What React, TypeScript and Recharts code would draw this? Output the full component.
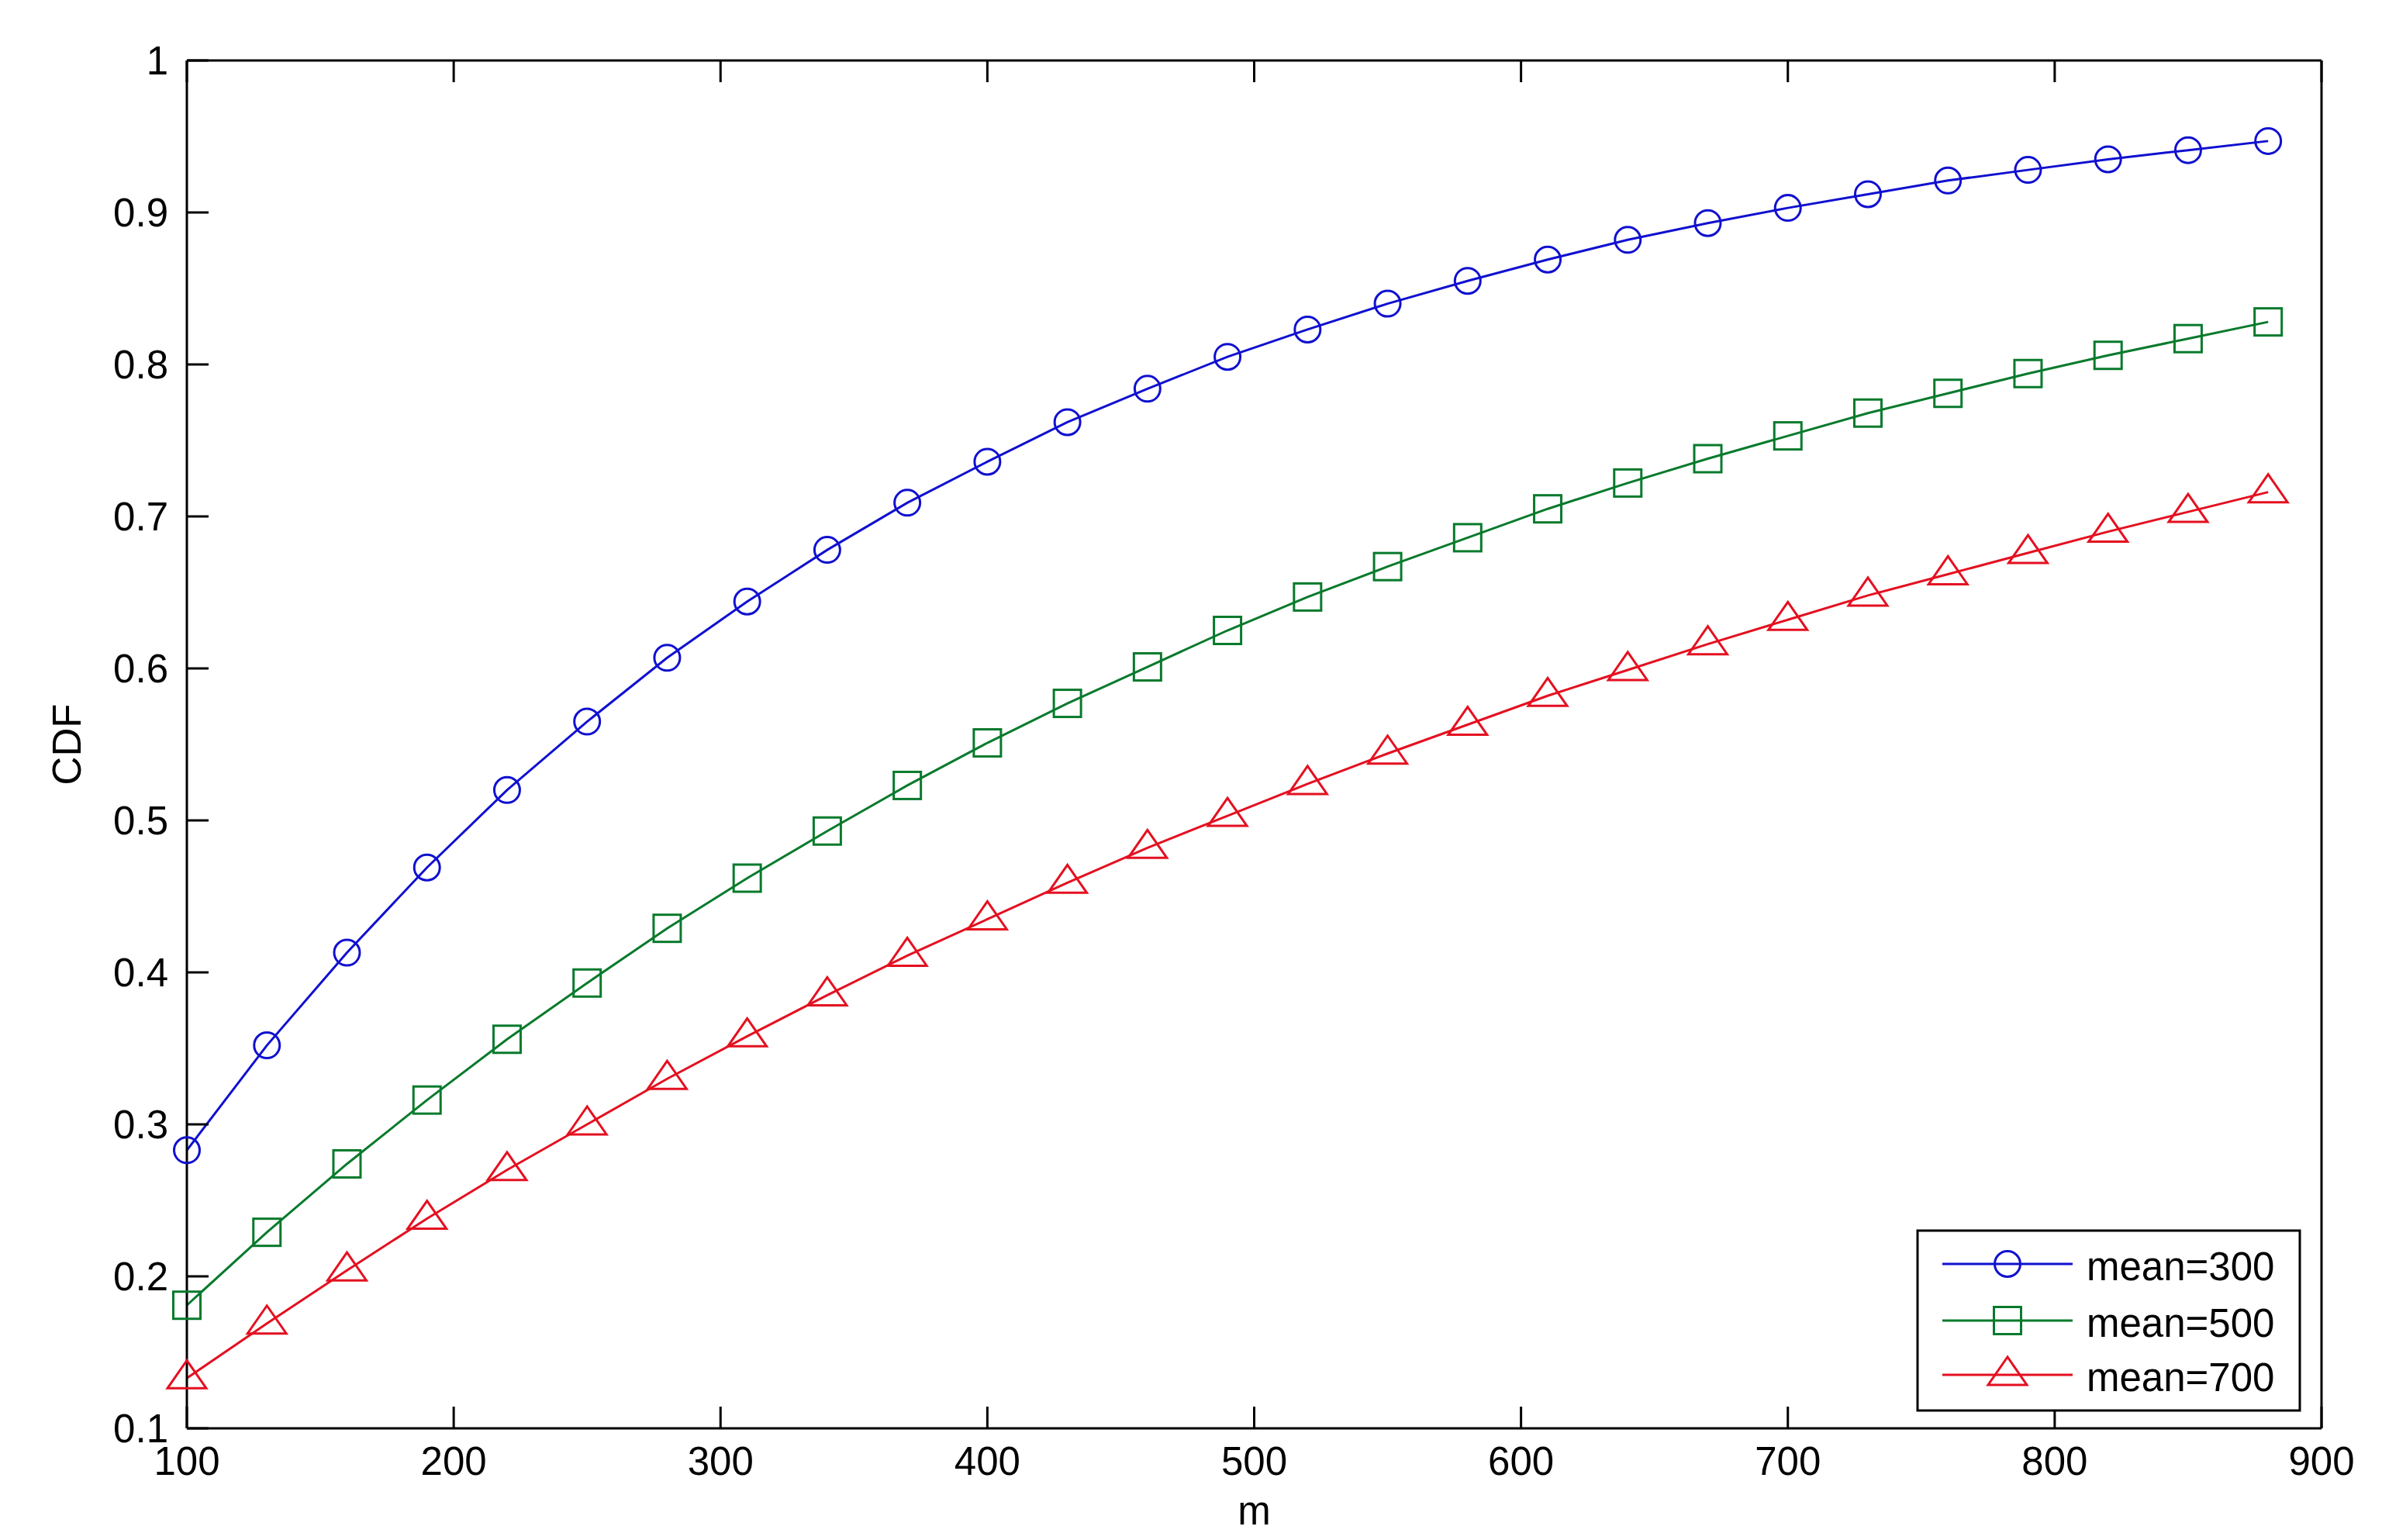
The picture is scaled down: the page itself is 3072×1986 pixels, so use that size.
import {
  LineChart,
  Line,
  XAxis,
  YAxis,
} from "recharts";

const M_VALUES = [
  100, 130, 160, 190, 220, 250, 280, 310, 340, 370, 400, 430, 460, 490, 520,
  550, 580, 610, 640, 670, 700, 730, 760, 790, 820, 850, 880,
];

const MEAN_300 = [
  0.283, 0.352, 0.413, 0.469, 0.520, 0.565, 0.607, 0.644, 0.678, 0.709, 0.736,
  0.762, 0.784, 0.805, 0.823, 0.840, 0.855, 0.869, 0.882, 0.893, 0.903, 0.912,
  0.921, 0.928, 0.935, 0.941, 0.947,
];

const MEAN_500 = [
  0.181, 0.229, 0.274, 0.316, 0.356, 0.393, 0.429, 0.462, 0.493, 0.523, 0.551,
  0.577, 0.601, 0.625, 0.647, 0.667, 0.686, 0.705, 0.722, 0.738, 0.753, 0.768,
  0.781, 0.794, 0.806, 0.817, 0.828,
];

const MEAN_700 = [
  0.133, 0.169, 0.204, 0.238, 0.270, 0.300, 0.330, 0.358, 0.385, 0.411, 0.435,
  0.459, 0.482, 0.503, 0.524, 0.544, 0.563, 0.582, 0.599, 0.616, 0.632, 0.648,
  0.662, 0.676, 0.690, 0.703, 0.716,
];

const X_TICKS = [100, 200, 300, 400, 500, 600, 700, 800, 900];
const Y_TICKS = [0.1, 0.2, 0.3, 0.4, 0.5, 0.6, 0.7, 0.8, 0.9, 1];

const SERIES = [
  { key: "m300", name: "mean=300", color: "#1010d0", shape: "circle" },
  { key: "m500", name: "mean=500", color: "#087a2c", shape: "square" },
  { key: "m700", name: "mean=700", color: "#e41020", shape: "triangle" },
];

const data = M_VALUES.map((m, i) => ({
  m,
  m300: MEAN_300[i],
  m500: MEAN_500[i],
  m700: MEAN_700[i],
}));

const FONT = "'Liberation Sans', Arial, sans-serif";
const FONT_SIZE = 51;
const TICK_LEN = 28;

function Label({ x, y, anchor = "start", rotate = 0, children }: any) {
  return (
    <text
      transform={`translate(${x},${y}) rotate(${rotate})`}
      textAnchor={anchor}
      fontFamily={FONT}
      fontSize={FONT_SIZE}
      fill="#000"
    >
      {children}
    </text>
  );
}

function Marker({ cx, cy, shape, color }: any) {
  if (cx == null || cy == null) return null;
  if (shape === "circle") {
    return <circle cx={cx} cy={cy} r={16.5} fill="none" stroke={color} strokeWidth={3} />;
  }
  if (shape === "square") {
    return (
      <rect x={cx - 17.5} y={cy - 17.5} width={35} height={35} fill="none" stroke={color} strokeWidth={3} />
    );
  }
  return (
    <polygon
      points={`${cx},${cy - 23} ${cx - 25},${cy + 13} ${cx + 25},${cy + 13}`}
      fill="none"
      stroke={color}
      strokeWidth={3}
    />
  );
}

function BottomTick({ x, y, payload }: any) {
  return (
    <g>
      <line x1={x} y1={y} x2={x} y2={y - TICK_LEN} stroke="#000" strokeWidth={3} />
      <Label x={x} y={y + 60} anchor="middle">
        {payload.value}
      </Label>
    </g>
  );
}

function TopTick({ x, y }: any) {
  return <line x1={x} y1={y} x2={x} y2={y + TICK_LEN} stroke="#000" strokeWidth={3} />;
}

function LeftTick({ x, y, payload }: any) {
  const v = payload.value;
  const label = v === 1 ? "1" : v.toFixed(1);
  return (
    <g>
      <line x1={x} y1={y} x2={x + TICK_LEN} y2={y} stroke="#000" strokeWidth={3} />
      <Label x={x - 24} y={y + 18} anchor="end">
        {label}
      </Label>
    </g>
  );
}

function RightTick({ x, y }: any) {
  return <line x1={x} y1={y} x2={x - TICK_LEN} y2={y} stroke="#000" strokeWidth={3} />;
}

function XLabel({ viewBox }: any) {
  return (
    <Label x={viewBox.x + viewBox.width / 2} y={viewBox.y + 124} anchor="middle">
      m
    </Label>
  );
}

function YLabel({ viewBox }: any) {
  return (
    <Label x={104} y={viewBox.y + viewBox.height / 2} anchor="middle" rotate={-90}>
      CDF
    </Label>
  );
}

function LegendBox() {
  const rows = [45, 118, 188];
  return (
    <svg width={500} height={238} style={{ display: "block" }}>
      <rect x={2} y={2} width={493} height={232} fill="#fff" stroke="#000" strokeWidth={3} />
      {SERIES.map((s, i) => (
        <g key={s.key}>
          <line x1={34} y1={rows[i]} x2={202} y2={rows[i]} stroke={s.color} strokeWidth={3} />
          <Marker cx={118} cy={rows[i]} shape={s.shape} color={s.color} />
          <Label x={220} y={rows[i] + 21}>
            {s.name}
          </Label>
        </g>
      ))}
    </svg>
  );
}

export default function App() {
  return (
    <div style={{ position: "fixed", left: 0, top: 0, width: 3072, height: 1986, background: "#fff" }}>
      <LineChart
        width={3072}
        height={1986}
        data={data}
        margin={{ top: 77, right: 77, bottom: 143, left: 240 }}
      >
        <XAxis
          xAxisId="bottom"
          dataKey="m"
          type="number"
          domain={[100, 900]}
          ticks={X_TICKS}
          interval={0}
          height={1}
          tickSize={0}
          tickMargin={0}
          tickLine={false}
          axisLine={{ stroke: "#000", strokeWidth: 3 }}
          tick={<BottomTick />}
          label={<XLabel />}
        />
        <XAxis
          xAxisId="top"
          orientation="top"
          dataKey="m"
          type="number"
          domain={[100, 900]}
          ticks={X_TICKS}
          interval={0}
          height={1}
          tickSize={0}
          tickMargin={0}
          tickLine={false}
          axisLine={{ stroke: "#000", strokeWidth: 3 }}
          tick={<TopTick />}
        />
        <YAxis
          yAxisId="left"
          type="number"
          domain={[0.1, 1]}
          ticks={Y_TICKS}
          interval={0}
          width={1}
          tickSize={0}
          tickMargin={0}
          tickLine={false}
          axisLine={{ stroke: "#000", strokeWidth: 3 }}
          tick={<LeftTick />}
          label={<YLabel />}
        />
        <YAxis
          yAxisId="right"
          orientation="right"
          type="number"
          domain={[0.1, 1]}
          ticks={Y_TICKS}
          interval={0}
          width={1}
          tickSize={0}
          tickMargin={0}
          tickLine={false}
          axisLine={{ stroke: "#000", strokeWidth: 3 }}
          tick={<RightTick />}
        />
        {SERIES.map((s) => (
          <Line
            key={s.key}
            xAxisId="bottom"
            yAxisId="left"
            type="linear"
            dataKey={s.key}
            name={s.name}
            stroke={s.color}
            strokeWidth={3}
            isAnimationActive={false}
            dot={(p: any) => (
              <Marker key={`${s.key}-${p.index}`} cx={p.cx} cy={p.cy} shape={s.shape} color={s.color} />
            )}
            activeDot={false}
          />
        ))}
      </LineChart>
      <div style={{ position: "absolute", left: 2471, top: 1585 }}>
        <LegendBox />
      </div>
    </div>
  );
}
